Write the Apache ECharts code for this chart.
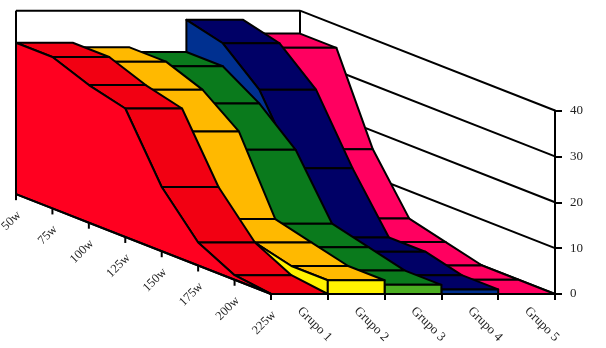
<!DOCTYPE html>
<html>
<head>
<meta charset="utf-8">
<style>html,body{margin:0;padding:0;background:#fff}#c{width:606px;height:348px}</style>
<script src="https://cdn.jsdelivr.net/npm/echarts@6/dist/echarts.min.js"></script>
</head>
<body>
<div id="c"></div>
<script>
const categories = ['50w','75w','100w','125w','150w','175w','200w','225w'];
const groups = ['Grupo 1','Grupo 2','Grupo 3','Grupo 4','Grupo 5'];
const grupo1 = [33,33,30,28,14,5,1,0];
const grupo2 = [32,32,29,23,7,5,3,3];
const grupo3 = [31,31,26,19,6,4,2,2];
const grupo4 = [38,36,29,15,3,3,1,1];
const grupo5 = [35,35,16,4,2,0,0,0];
const valueTicks = [0,10,20,30,40];

const seriesValues = [grupo1,grupo2,grupo3,grupo4,grupo5];
const topColors  = ['#F20012','#FFB900','#0A7A1C','#000066','#FF0060'];
const sideColors = ['#FF0020','#FFF200','#4CAF22','#003090','#FF3080'];
const LW = 2;
const last = categories.length - 1;
// oblique projection: each step back along the category axis shifts left and up
const KX = 36.43 / 56.8, KY = 14.3 / 4.6;

function proj(api, g, c, v) {
  return api.coord([g + (c - last) * KX, v + (last - c) * KY]);
}
function poly(points, fill) {
  return {type:'polygon', shape:{points}, style:{fill, stroke:'#000', lineWidth:LW, lineJoin:'round'}};
}
function line(a, b) {
  return {type:'line', shape:{x1:a[0],y1:a[1],x2:b[0],y2:b[1]}, style:{stroke:'#000', lineWidth:LW, fill:null}};
}

const wallSeries = {
  type:'custom', xAxisIndex:1, yAxisIndex:0, silent:true,
  data: valueTicks.map(v=>[0,v]),
  renderItem(params, api){
    const v = valueTicks[params.dataIndex], n = groups.length, kids = [];
    kids.push(line(proj(api,0,0,v), proj(api,n,0,v)));
    kids.push(line(proj(api,n,0,v), proj(api,n,last,v)));
    if (params.dataIndex === valueTicks.length-1) {
      kids.push(line(proj(api,0,0,0), proj(api,0,0,v)));
      kids.push(line(proj(api,n,0,0), proj(api,n,0,v)));
    }
    return {type:'group', children:kids};
  }
};

const order = [4,3,2,1,0];
const bands = order.map(g=>({
  type:'custom', name:groups[g], xAxisIndex:1, yAxisIndex:0, silent:true,
  data: seriesValues[g].map((v,c)=>[c,v]),
  renderItem(params, api){
    const c = params.dataIndex, vals = seriesValues[g], kids = [];
    if (c < last) {
      kids.push(poly([
        proj(api,g,c,vals[c]), proj(api,g+1,c,vals[c]),
        proj(api,g+1,c+1,vals[c+1]), proj(api,g,c+1,vals[c+1])
      ], topColors[g]));
    } else {
      const pts = vals.map((v,i)=>proj(api,g,i,v));
      pts.push(proj(api,g,last,0), proj(api,g,0,0));
      kids.push(poly(pts, sideColors[g]));
      if (vals[last] > 0) {
        kids.push(poly([
          proj(api,g,last,0), proj(api,g+1,last,0),
          proj(api,g+1,last,vals[last]), proj(api,g,last,vals[last])
        ], sideColors[g]));
      }
    }
    return {type:'group', children:kids};
  }
}));

const depthAxis = {
  type:'custom', xAxisIndex:1, yAxisIndex:0, silent:true,
  data: categories.map((n,c)=>[c,0]),
  renderItem(params, api){
    const c = params.dataIndex, p = proj(api,0,c,0), kids = [];
    if (c < last) kids.push(line(p, proj(api,0,c+1,0)));
    kids.push({type:'line', shape:{x1:p[0],y1:p[1],x2:p[0],y2:p[1]+6}, style:{stroke:'#000',lineWidth:LW}});
    kids.push({type:'text', x:p[0]+3, y:p[1]+19, rotation:Math.PI/4,
      style:{text:categories[c], font:'12.5px "Liberation Serif"', fill:'#222', align:'right', verticalAlign:'middle'}});
    return {type:'group', children:kids};
  }
};

const chart = echarts.init(document.getElementById('c'), null, {renderer:'canvas'});
chart.setOption({
  animation:false,
  backgroundColor:'#fff',
  grid:{left:271, right:51, top:110.5, bottom:54},
  xAxis:[
    {type:'category', data:groups, position:'bottom',
     axisLine:{onZero:false,lineStyle:{color:'#000',width:LW}},
     axisTick:{show:true,length:6,lineStyle:{color:'#000',width:LW}},
     axisLabel:{rotate:-45, interval:0, margin:15, color:'#222', fontFamily:'Liberation Serif', fontSize:13},
     splitLine:{show:false}},
    {type:'value', min:0, max:groups.length, show:false, splitLine:{show:false}}
  ],
  yAxis:[
    {type:'value', min:0, max:40, interval:10, position:'right',
     axisLine:{show:true,onZero:false,lineStyle:{color:'#000',width:LW}},
     axisTick:{show:true,length:7,lineStyle:{color:'#000',width:LW}},
     axisLabel:{margin:15,color:'#222',fontFamily:'Liberation Serif',fontSize:13},
     splitLine:{show:false}}
  ],
  series:[wallSeries, ...bands, depthAxis]
});
</script>
</body>
</html>
